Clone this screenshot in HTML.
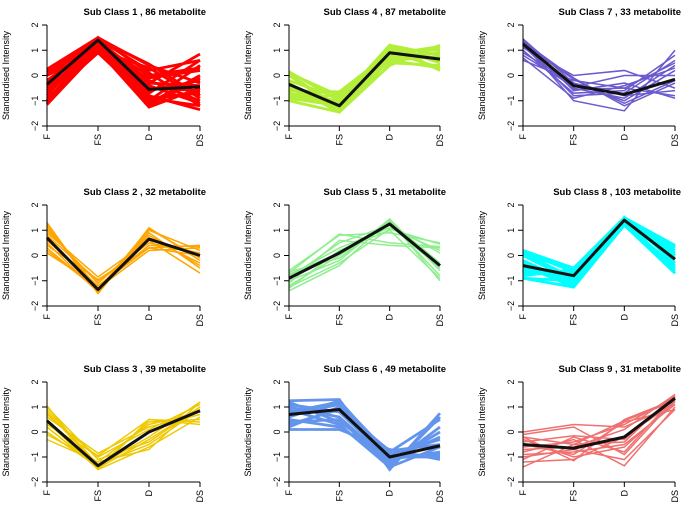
<!DOCTYPE html>
<html><head><meta charset="utf-8">
<style>
html,body{margin:0;padding:0;background:#fff;}
svg{display:block;font-family:"Liberation Sans",sans-serif;}
</style></head>
<body>
<svg id="chart" width="685" height="507" viewBox="0 0 685 507"></svg>
<script>
const categories = ["F","FS","D","DS"];
const yTicks = [-2,-1,0,1,2];
const titles = ["Sub Class  1  , 86 metabolite","Sub Class  4  , 87 metabolite","Sub Class  7  , 33 metabolite",
"Sub Class  2  , 32 metabolite","Sub Class  5  , 31 metabolite","Sub Class  8  , 103 metabolite",
"Sub Class  3  , 39 metabolite","Sub Class  6  , 49 metabolite","Sub Class  9  , 31 metabolite"];
const colors = ["#ff0000","#b3ee3a","#6a5acd","#ffa500","#90ee90","#00ffff","#eec900","#6495ed","#f07070"];
const means = [
[-0.35,1.4,-0.55,-0.45],[-0.35,-1.2,0.9,0.65],[1.25,-0.4,-0.75,-0.15],
[0.7,-1.35,0.65,0.0],[-0.9,0.1,1.25,-0.4],[-0.4,-0.8,1.4,-0.15],
[0.45,-1.35,0.0,0.85],[0.7,0.9,-1.0,-0.55],[-0.5,-0.65,-0.2,1.35]];
const members1 = [[0.25,1.5,0.4,-0.3],[0.1,1.45,0.2,0.6],[-0.2,1.3,-0.3,0.85],[-0.5,1.2,-0.8,-1.35],[-1.15,1.0,-1.25,-0.5],[-0.9,0.9,-1.0,0.4],[-0.6,1.4,-0.2,-1.0],[0.0,1.35,-0.6,-0.2],[-0.3,1.45,0.45,-0.8],[-1.0,1.1,-0.9,-1.2],[0.2,1.4,-1.1,0.0],[-0.7,1.25,0.0,0.3],[-0.4,1.5,-0.5,-0.6],[0.15,1.2,-0.4,-1.1],[-0.8,1.45,-1.2,-0.1],[-1.1,1.3,-0.7,0.6],[0.0,1.0,0.3,-0.9],[-0.5,0.95,-0.1,0.2],[0.2,1.3,-0.9,-0.7],[-1.0,1.4,-0.3,-0.4],[-0.2,1.1,-1.0,-0.6],[0.1,1.5,0.1,-1.2]];
const members4 = [[0.15,-1.0,1.2,0.2],[-1.0,-1.45,0.4,1.2],[-0.6,-0.65,0.9,0.7],[0.0,-1.3,1.0,1.0],[-0.8,-1.1,0.6,0.3],[-0.3,-1.4,1.15,0.5],[0.1,-0.8,0.7,0.9],[-0.9,-1.2,1.1,0.6],[-0.5,-1.35,0.8,1.1],[-0.2,-0.9,0.5,0.4],[-0.7,-1.0,1.2,0.8],[0.05,-1.25,0.95,0.3],[-1.0,-0.75,0.85,1.15],[-0.4,-1.45,0.6,0.75]];
const members7 = [[1.45,-0.5,-0.9,0.4],[0.6,-0.2,-0.5,-0.8],[1.3,-1.0,-1.4,1.0],[1.1,0.0,0.2,-0.5],[1.4,-0.6,-0.3,-0.9],[0.9,-0.3,-1.0,0.2],[1.2,-0.8,-0.7,0.6],[1.35,-0.1,-1.2,-0.3],[0.8,-0.45,0.0,0.0],[1.0,-0.7,-0.6,0.8],[1.45,-0.3,-0.8,-0.6],[0.7,-0.9,-0.4,0.3],[1.25,-0.15,-1.1,-0.2],[1.15,-0.55,-0.5,0.5]];
const members2 = [[1.3,-1.5,1.1,-0.2],[0.1,-1.2,0.3,0.4],[0.9,-0.85,0.6,-0.7],[0.5,-1.45,1.0,0.2],[1.1,-1.3,0.2,0.3],[0.3,-1.4,0.8,-0.4],[0.8,-1.0,0.5,0.1],[1.2,-1.5,0.9,-0.5],[0.6,-1.2,0.4,0.35],[0.2,-1.35,1.05,-0.1],[1.0,-1.1,0.7,-0.3],[0.4,-0.95,0.3,0.0]];
const members5 = [[-0.6,0.8,0.9,0.5],[-1.4,-0.4,1.4,-1.0],[-0.8,0.3,1.1,0.2],[-1.2,0.0,1.3,-0.8],[-0.7,0.85,0.5,0.35],[-1.0,-0.2,1.45,-0.6],[-0.9,0.5,1.2,0.1],[-1.3,0.2,1.0,-0.9],[-0.65,-0.1,1.35,-0.3],[-1.1,0.6,0.4,0.3],[-0.75,0.1,1.2,-0.5],[-1.25,-0.3,1.05,0.45]];
const members8 = [[0.2,-0.5,1.5,0.4],[-0.9,-1.25,1.2,-0.7],[-0.5,-0.7,1.45,0.1],[0.0,-1.0,1.3,-0.5],[-0.7,-0.6,1.4,0.3],[-0.3,-1.2,1.5,-0.3],[0.1,-0.9,1.25,-0.6],[-0.8,-0.55,1.35,0.2],[-0.2,-1.1,1.45,0.0],[-0.6,-0.8,1.2,-0.4],[0.15,-0.65,1.4,0.35],[-0.9,-1.0,1.3,-0.1],[-0.4,-1.25,1.5,-0.7],[0.0,-0.5,1.25,0.0]];
const members3 = [[1.05,-1.5,0.5,0.3],[-0.3,-1.2,-0.7,1.2],[0.6,-0.85,0.2,0.7],[0.2,-1.45,-0.3,1.0],[0.9,-1.3,-0.5,0.9],[0.0,-1.4,0.4,0.5],[0.7,-1.0,0.1,1.1],[0.4,-1.5,-0.6,0.6],[-0.1,-1.2,0.3,0.8],[0.8,-1.35,-0.2,1.2],[0.3,-0.95,0.5,0.4],[1.0,-1.1,-0.4,1.0]];
const members6 = [[1.25,1.3,-1.5,0.75],[0.1,0.1,-0.7,-1.1],[0.8,1.2,-0.9,-0.3],[0.4,0.5,-1.3,0.2],[1.1,0.8,-1.1,-0.8],[0.2,1.0,-0.8,0.5],[0.9,0.3,-1.4,-0.6],[0.6,1.25,-1.0,-1.0],[1.0,0.6,-1.2,0.0],[0.3,0.9,-0.75,-0.5],[0.7,1.1,-1.45,0.6],[1.2,0.4,-0.95,-0.9],[0.5,0.2,-1.1,-0.2]];
const members9 = [[0.0,0.3,0.2,1.1],[-1.4,-0.5,-0.4,1.5],[-0.2,-1.15,0.5,1.3],[-0.8,-0.3,-1.35,1.0],[-0.5,-0.9,0.4,0.9],[-1.1,-0.2,-0.8,1.4],[-0.3,-1.0,-0.6,1.2],[-0.7,-0.6,0.1,1.5],[-0.1,0.2,-0.9,1.3],[-1.2,-1.1,-0.2,1.2],[-0.6,-0.4,0.3,1.4],[-0.9,-0.8,-0.5,1.1],[-0.4,-0.15,-0.3,1.45],[-1.0,-0.7,-1.1,0.9],[-0.2,-0.5,0.45,1.25]];
const membersAll = [members1,members4,members7,members2,members5,members8,members3,members6,members9];

const colX = [[47,200],[289,440],[523,675]];
const rowY = [[25,126],[205,306],[382,482]];
const NS = "http://www.w3.org/2000/svg";
const svg = document.getElementById("chart");
function mk(tag, attrs, parent){const e=document.createElementNS(NS,tag);for(const k in attrs)e.setAttribute(k,attrs[k]);(parent||svg).appendChild(e);return e;}

for(let p=0;p<9;p++){
  const [x0,x1]=colX[p%3], [yt,yb]=rowY[Math.floor(p/3)];
  const xs = i => x0 + (x1-x0)*i/(categories.length-1);
  const ys = v => yb - (v+2)/4*(yb-yt);
  const g = mk("g",{});
  
  
  const t = mk("text",{x:x1+6,y:yt-10,"text-anchor":"end","font-size":"9.5","font-weight":"bold"},g);
  t.textContent = titles[p];
  
  
  const yl = mk("text",{transform:`translate(${x0-38},${(yt+yb)/2}) rotate(-90)`,"text-anchor":"middle","font-size":"9"},g);
  yl.textContent = "Standardised Intensity";
  
  
  const lines = mk("g",{},g);
  
  
  const dense = (p===0||p===1||p===5||p===7);
  membersAll[p].forEach(m=>{
    const pl = mk("polyline",{points:m.map((v,i)=>xs(i)+","+ys(v)).join(" "),fill:"none",stroke:colors[p],"stroke-width":dense?"2.8":"1.5"},lines);
    
    
  });
  const ml = mk("polyline",{points:means[p].map((v,i)=>xs(i)+","+ys(v)).join(" "),fill:"none",stroke:"#111","stroke-width":"3","stroke-linejoin":"round"},g);
  
  
  const ax = mk("g",{stroke:"#000","stroke-width":"1"},g);
  
  
  mk("line",{x1:x0,y1:yt,x2:x0,y2:yb},ax);
  mk("line",{x1:x0,y1:yb,x2:x1,y2:yb},ax);
  yTicks.forEach(v=>{
    mk("line",{x1:x0-5,y1:ys(v),x2:x0,y2:ys(v)},ax);
    const tl = mk("text",{transform:`translate(${x0-9},${ys(v)}) rotate(-90)`,"text-anchor":"middle","font-size":"9",stroke:"none"},g);
    tl.textContent = v<0 ? "\u2212"+(-v) : String(v);
    
    
  });
  categories.forEach((c,i)=>{
    mk("line",{x1:xs(i),y1:yb,x2:xs(i),y2:yb+5},ax);
    const tl = mk("text",{transform:`translate(${xs(i)+3},${yb+8}) rotate(-90)`,"text-anchor":"end","font-size":"9"},g);
    tl.textContent = c;
    
    
  });
}
</script>
</body></html>
